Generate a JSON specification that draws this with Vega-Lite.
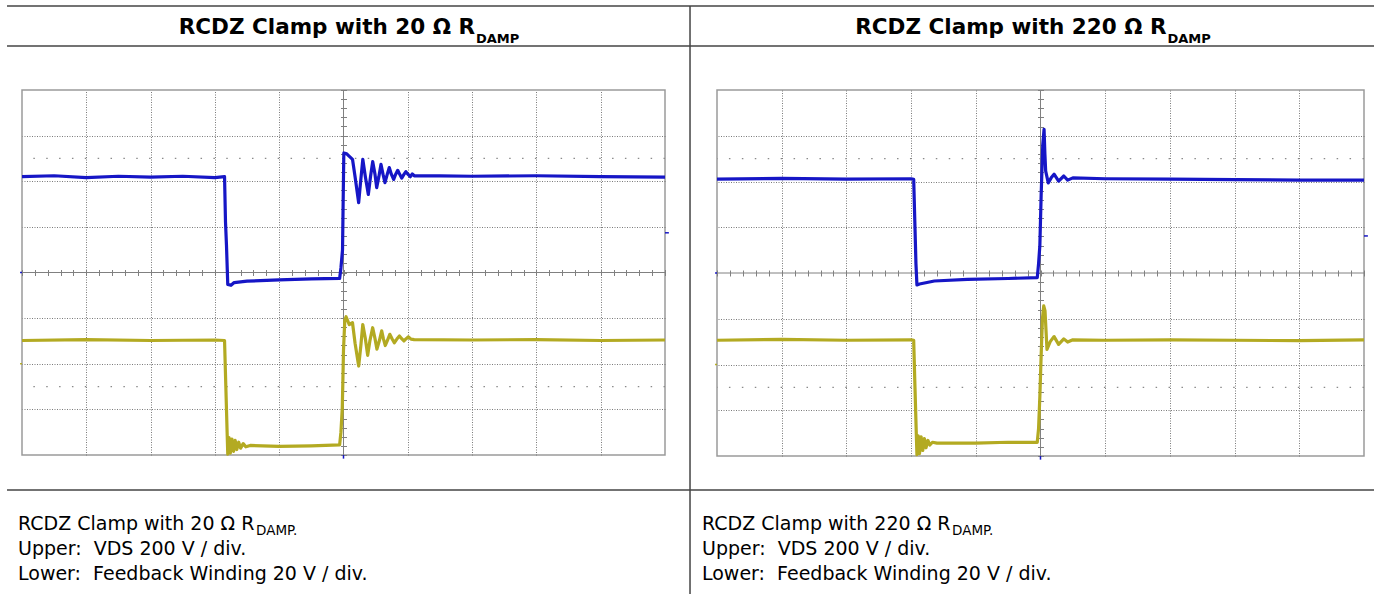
{
  "$schema": "https://vega.github.io/schema/vega-lite/v6.json",
  "autosize": {"type": "pad"},
  "padding": {"left": 5, "top": 4, "right": 0, "bottom": 0},
  "background": "white",
  "bounds": "flush",
  "spacing": 52,
  "config": {
    "view": {"stroke": "#9a9a9a", "strokeWidth": 1.5},
    "axis": {"labels": false, "title": null, "domain": false, "ticks": false, "grid": false}
  },
  "datasets": {
    "a": [
      {"ch": "VDS", "t": 0, "v": 6.1}, {"ch": "VDS", "t": 0.5, "v": 6.12}, {"ch": "VDS", "t": 1.0, "v": 6.08}, {"ch": "VDS", "t": 1.5, "v": 6.11}, {"ch": "VDS", "t": 2.0, "v": 6.09}, {"ch": "VDS", "t": 2.5, "v": 6.11}, {"ch": "VDS", "t": 3.0, "v": 6.08}, {"ch": "VDS", "t": 3.15, "v": 6.1},
      {"ch": "VDS", "t": 3.165, "v": 5.1}, {"ch": "VDS", "t": 3.18, "v": 4.6}, {"ch": "VDS", "t": 3.2, "v": 3.74}, {"ch": "VDS", "t": 3.25, "v": 3.72}, {"ch": "VDS", "t": 3.3, "v": 3.78}, {"ch": "VDS", "t": 3.5, "v": 3.81}, {"ch": "VDS", "t": 4.0, "v": 3.84}, {"ch": "VDS", "t": 4.5, "v": 3.86}, {"ch": "VDS", "t": 4.94, "v": 3.87},
      {"ch": "VDS", "t": 4.96, "v": 4.1}, {"ch": "VDS", "t": 4.985, "v": 4.5}, {"ch": "VDS", "t": 4.995, "v": 5.6}, {"ch": "VDS", "t": 5.005, "v": 6.62}, {"ch": "VDS", "t": 5.05, "v": 6.6}, {"ch": "VDS", "t": 5.14, "v": 6.48}, {"ch": "VDS", "t": 5.18, "v": 6.1}, {"ch": "VDS", "t": 5.236, "v": 5.53}, {"ch": "VDS", "t": 5.26, "v": 5.9}, {"ch": "VDS", "t": 5.3, "v": 6.48}, {"ch": "VDS", "t": 5.34, "v": 6.1}, {"ch": "VDS", "t": 5.386, "v": 5.71}, {"ch": "VDS", "t": 5.42, "v": 6.1}, {"ch": "VDS", "t": 5.454, "v": 6.43}, {"ch": "VDS", "t": 5.49, "v": 6.15}, {"ch": "VDS", "t": 5.516, "v": 5.86}, {"ch": "VDS", "t": 5.55, "v": 6.1}, {"ch": "VDS", "t": 5.583, "v": 6.37}, {"ch": "VDS", "t": 5.615, "v": 6.15}, {"ch": "VDS", "t": 5.645, "v": 5.97}, {"ch": "VDS", "t": 5.68, "v": 6.15}, {"ch": "VDS", "t": 5.712, "v": 6.3}, {"ch": "VDS", "t": 5.745, "v": 6.15}, {"ch": "VDS", "t": 5.78, "v": 6.04}, {"ch": "VDS", "t": 5.81, "v": 6.15}, {"ch": "VDS", "t": 5.843, "v": 6.24}, {"ch": "VDS", "t": 5.875, "v": 6.15}, {"ch": "VDS", "t": 5.905, "v": 6.07}, {"ch": "VDS", "t": 5.94, "v": 6.15}, {"ch": "VDS", "t": 5.97, "v": 6.21}, {"ch": "VDS", "t": 6.005, "v": 6.15}, {"ch": "VDS", "t": 6.04, "v": 6.1}, {"ch": "VDS", "t": 6.07, "v": 6.16}, {"ch": "VDS", "t": 6.1, "v": 6.12}, {"ch": "VDS", "t": 6.5, "v": 6.12}, {"ch": "VDS", "t": 7.0, "v": 6.11}, {"ch": "VDS", "t": 8.0, "v": 6.12}, {"ch": "VDS", "t": 9.0, "v": 6.1}, {"ch": "VDS", "t": 10.0, "v": 6.09},
      {"ch": "FB", "t": 0, "v": 2.51}, {"ch": "FB", "t": 1, "v": 2.53}, {"ch": "FB", "t": 2, "v": 2.51}, {"ch": "FB", "t": 3, "v": 2.52}, {"ch": "FB", "t": 3.15, "v": 2.51}, {"ch": "FB", "t": 3.17, "v": 1.5}, {"ch": "FB", "t": 3.19, "v": 0.5}, {"ch": "FB", "t": 3.2, "v": 0.02}, {"ch": "FB", "t": 3.22, "v": 0.38}, {"ch": "FB", "t": 3.24, "v": 0.04}, {"ch": "FB", "t": 3.265, "v": 0.35}, {"ch": "FB", "t": 3.29, "v": 0.08}, {"ch": "FB", "t": 3.315, "v": 0.32}, {"ch": "FB", "t": 3.34, "v": 0.12}, {"ch": "FB", "t": 3.37, "v": 0.28}, {"ch": "FB", "t": 3.4, "v": 0.15}, {"ch": "FB", "t": 3.44, "v": 0.25}, {"ch": "FB", "t": 3.48, "v": 0.18}, {"ch": "FB", "t": 3.55, "v": 0.21}, {"ch": "FB", "t": 4.0, "v": 0.19}, {"ch": "FB", "t": 4.5, "v": 0.2}, {"ch": "FB", "t": 4.94, "v": 0.22},
      {"ch": "FB", "t": 4.96, "v": 0.5}, {"ch": "FB", "t": 4.98, "v": 1.0}, {"ch": "FB", "t": 4.99, "v": 1.6}, {"ch": "FB", "t": 5.0, "v": 2.3}, {"ch": "FB", "t": 5.02, "v": 2.95}, {"ch": "FB", "t": 5.04, "v": 3.03}, {"ch": "FB", "t": 5.09, "v": 2.86}, {"ch": "FB", "t": 5.14, "v": 2.9}, {"ch": "FB", "t": 5.18, "v": 2.45}, {"ch": "FB", "t": 5.236, "v": 1.95}, {"ch": "FB", "t": 5.27, "v": 2.4}, {"ch": "FB", "t": 5.3, "v": 2.86}, {"ch": "FB", "t": 5.34, "v": 2.55}, {"ch": "FB", "t": 5.376, "v": 2.185}, {"ch": "FB", "t": 5.41, "v": 2.5}, {"ch": "FB", "t": 5.454, "v": 2.79}, {"ch": "FB", "t": 5.49, "v": 2.55}, {"ch": "FB", "t": 5.52, "v": 2.32}, {"ch": "FB", "t": 5.56, "v": 2.52}, {"ch": "FB", "t": 5.594, "v": 2.72}, {"ch": "FB", "t": 5.62, "v": 2.55}, {"ch": "FB", "t": 5.65, "v": 2.4}, {"ch": "FB", "t": 5.685, "v": 2.52}, {"ch": "FB", "t": 5.72, "v": 2.645}, {"ch": "FB", "t": 5.755, "v": 2.55}, {"ch": "FB", "t": 5.79, "v": 2.46}, {"ch": "FB", "t": 5.83, "v": 2.54}, {"ch": "FB", "t": 5.87, "v": 2.61}, {"ch": "FB", "t": 5.905, "v": 2.55}, {"ch": "FB", "t": 5.94, "v": 2.5}, {"ch": "FB", "t": 5.975, "v": 2.55}, {"ch": "FB", "t": 6.01, "v": 2.59}, {"ch": "FB", "t": 6.05, "v": 2.54}, {"ch": "FB", "t": 6.1, "v": 2.53}, {"ch": "FB", "t": 7, "v": 2.52}, {"ch": "FB", "t": 8, "v": 2.53}, {"ch": "FB", "t": 9, "v": 2.51}, {"ch": "FB", "t": 10, "v": 2.52}
    ],
    "b": [
      {"ch": "VDS", "t": 0, "v": 6.05}, {"ch": "VDS", "t": 1, "v": 6.07}, {"ch": "VDS", "t": 2, "v": 6.05}, {"ch": "VDS", "t": 3.0, "v": 6.06}, {"ch": "VDS", "t": 3.04, "v": 6.05}, {"ch": "VDS", "t": 3.06, "v": 5.0}, {"ch": "VDS", "t": 3.075, "v": 4.2}, {"ch": "VDS", "t": 3.09, "v": 3.74}, {"ch": "VDS", "t": 3.13, "v": 3.76}, {"ch": "VDS", "t": 3.36, "v": 3.825}, {"ch": "VDS", "t": 3.87, "v": 3.86}, {"ch": "VDS", "t": 4.5, "v": 3.88}, {"ch": "VDS", "t": 4.95, "v": 3.9},
      {"ch": "VDS", "t": 4.97, "v": 4.2}, {"ch": "VDS", "t": 4.99, "v": 4.6}, {"ch": "VDS", "t": 5.01, "v": 5.7}, {"ch": "VDS", "t": 5.035, "v": 6.8}, {"ch": "VDS", "t": 5.055, "v": 7.14}, {"ch": "VDS", "t": 5.068, "v": 6.6}, {"ch": "VDS", "t": 5.08, "v": 6.23}, {"ch": "VDS", "t": 5.12, "v": 5.97}, {"ch": "VDS", "t": 5.165, "v": 6.08}, {"ch": "VDS", "t": 5.21, "v": 6.16}, {"ch": "VDS", "t": 5.28, "v": 6.01}, {"ch": "VDS", "t": 5.36, "v": 6.12}, {"ch": "VDS", "t": 5.42, "v": 6.03}, {"ch": "VDS", "t": 5.5, "v": 6.08}, {"ch": "VDS", "t": 6, "v": 6.06}, {"ch": "VDS", "t": 7, "v": 6.05}, {"ch": "VDS", "t": 8, "v": 6.04}, {"ch": "VDS", "t": 9, "v": 6.03}, {"ch": "VDS", "t": 10, "v": 6.03},
      {"ch": "FB", "t": 0, "v": 2.53}, {"ch": "FB", "t": 1, "v": 2.55}, {"ch": "FB", "t": 2, "v": 2.53}, {"ch": "FB", "t": 3, "v": 2.54}, {"ch": "FB", "t": 3.04, "v": 2.53}, {"ch": "FB", "t": 3.06, "v": 1.5}, {"ch": "FB", "t": 3.08, "v": 0.5}, {"ch": "FB", "t": 3.09, "v": 0.03}, {"ch": "FB", "t": 3.11, "v": 0.44}, {"ch": "FB", "t": 3.13, "v": 0.05}, {"ch": "FB", "t": 3.155, "v": 0.42}, {"ch": "FB", "t": 3.18, "v": 0.12}, {"ch": "FB", "t": 3.205, "v": 0.38}, {"ch": "FB", "t": 3.23, "v": 0.18}, {"ch": "FB", "t": 3.26, "v": 0.34}, {"ch": "FB", "t": 3.29, "v": 0.24}, {"ch": "FB", "t": 3.33, "v": 0.3}, {"ch": "FB", "t": 3.4, "v": 0.28}, {"ch": "FB", "t": 4, "v": 0.28}, {"ch": "FB", "t": 4.5, "v": 0.3}, {"ch": "FB", "t": 4.95, "v": 0.3},
      {"ch": "FB", "t": 4.97, "v": 0.6}, {"ch": "FB", "t": 4.99, "v": 1.3}, {"ch": "FB", "t": 5.01, "v": 2.2}, {"ch": "FB", "t": 5.03, "v": 3.0}, {"ch": "FB", "t": 5.05, "v": 3.28}, {"ch": "FB", "t": 5.07, "v": 3.17}, {"ch": "FB", "t": 5.1, "v": 2.33}, {"ch": "FB", "t": 5.15, "v": 2.5}, {"ch": "FB", "t": 5.21, "v": 2.61}, {"ch": "FB", "t": 5.28, "v": 2.44}, {"ch": "FB", "t": 5.36, "v": 2.56}, {"ch": "FB", "t": 5.42, "v": 2.49}, {"ch": "FB", "t": 5.5, "v": 2.54}, {"ch": "FB", "t": 6, "v": 2.53}, {"ch": "FB", "t": 7, "v": 2.54}, {"ch": "FB", "t": 8, "v": 2.53}, {"ch": "FB", "t": 9, "v": 2.52}, {"ch": "FB", "t": 10, "v": 2.54}
    ]
  },
  "hconcat": [
    {
      "width": 643,
      "height": 365,
      "layer": [
        {"data": {"values": [{}]}, "mark": {"type": "rule", "color": "#444", "strokeWidth": 1.5}, "encoding": {"x": {"datum": -0.233, "axis": null}, "x2": {"datum": 10.389}, "y": {"datum": 9.841, "axis": null}}},
        {"data": {"values": [{}]}, "mark": {"type": "rule", "color": "#444", "strokeWidth": 1.5}, "encoding": {"x": {"datum": -0.233, "axis": null}, "x2": {"datum": 10.389}, "y": {"datum": 8.964, "axis": null}}},
        {"data": {"values": [{}]}, "mark": {"type": "rule", "color": "#444", "strokeWidth": 1.5}, "encoding": {"x": {"datum": -0.233, "axis": null}, "x2": {"datum": 10.389}, "y": {"datum": -0.767, "axis": null}}},
        {"data": {"values": [{}]}, "mark": {"type": "rule", "color": "#444", "strokeWidth": 1.5}, "encoding": {"x": {"datum": 10.389, "axis": null}, "y": {"datum": 9.841, "axis": null}, "y2": {"datum": -3.07}}},
        {"data": {"values": [{}]}, "mark": {"type": "text", "align": "right", "baseline": "alphabetic", "font": "DejaVu Sans", "fontSize": 21.5, "fontWeight": "bold", "color": "#000"}, "encoding": {"x": {"datum": 7.045, "axis": null}, "y": {"datum": 9.227, "axis": null}, "text": {"value": "RCDZ Clamp with 20 Ω R"}}},
        {"data": {"values": [{}]}, "mark": {"type": "text", "align": "left", "baseline": "alphabetic", "dx": 1, "dy": 8.5, "font": "DejaVu Sans", "fontSize": 13, "fontWeight": "bold", "color": "#000"}, "encoding": {"x": {"datum": 7.045, "axis": null}, "y": {"datum": 9.227, "axis": null}, "text": {"value": "DAMP"}}},
        {"data": {"values": [{}]}, "mark": {"type": "text", "align": "left", "baseline": "alphabetic", "font": "DejaVu Sans", "fontSize": 19, "color": "#000"}, "encoding": {"x": {"datum": -0.062, "axis": null}, "y": {"datum": -1.644, "axis": null}, "text": {"value": "RCDZ Clamp with 20 Ω R"}}},
        {"data": {"values": [{}]}, "mark": {"type": "text", "align": "left", "baseline": "alphabetic", "dy": 5, "font": "DejaVu Sans", "fontSize": 13.5, "color": "#000"}, "encoding": {"x": {"datum": 3.639, "axis": null}, "y": {"datum": -1.644, "axis": null}, "text": {"value": "DAMP."}}},
        {"data": {"values": [{}]}, "mark": {"type": "text", "align": "left", "baseline": "alphabetic", "font": "DejaVu Sans", "fontSize": 19, "lineHeight": 25, "lineBreak": "\n", "color": "#000"}, "encoding": {"x": {"datum": -0.062, "axis": null}, "y": {"datum": -2.192, "axis": null}, "text": {"value": "Upper:\u00a0 VDS 200 V / div.\nLower:\u00a0 Feedback Winding 20 V / div."}}},
        {"data": {"values": [{}]}, "mark": {"type": "rule", "color": "#8a8a8a", "strokeWidth": 1.2, "strokeDash": [1.5, 11.36]}, "encoding": {"y": {"datum": 6.5, "axis": null}}},
        {"data": {"values": [{}]}, "mark": {"type": "rule", "color": "#8a8a8a", "strokeWidth": 1.2, "strokeDash": [1.5, 11.36]}, "encoding": {"y": {"datum": 1.5, "axis": null}}},
        {"data": {"values": [{}]}, "mark": {"type": "rule", "color": "#808080", "strokeWidth": 1}, "encoding": {"x": {"datum": 5, "axis": {"orient": "bottom", "offset": -185.5, "ticks": true, "tickSize": 6, "tickCount": 50, "tickColor": "#808080", "tickWidth": 1, "domain": false, "labels": false, "grid": false, "title": null}}}},
        {"data": {"values": [{}]}, "mark": {"type": "rule", "color": "#808080", "strokeWidth": 1}, "encoding": {"y": {"datum": 4, "axis": {"orient": "left", "offset": -324.5, "ticks": true, "tickSize": 6, "tickCount": 40, "tickColor": "#808080", "tickWidth": 1, "domain": false, "labels": false, "grid": false, "title": null}}}},
        {"data": {"values": [{}]}, "mark": {"type": "rule", "color": "#1616c6", "strokeWidth": 1.5}, "encoding": {"x": {"datum": 10.0, "axis": null}, "x2": {"datum": 10.06}, "y": {"datum": 4.87, "axis": null}}},
        {"data": {"values": [{}]}, "mark": {"type": "rule", "color": "#1616c6", "strokeWidth": 1.5}, "encoding": {"x": {"datum": 5.0, "axis": null}, "y": {"datum": 0.0, "axis": null}, "y2": {"datum": -0.08}}},
        {"data": {"values": [{}]}, "mark": {"type": "rule", "color": "#1616c6", "strokeWidth": 1.5}, "encoding": {"x": {"datum": -0.03, "axis": null}, "x2": {"datum": 0.0}, "y": {"datum": 4.0, "axis": null}}},
        {"data": {"values": [{}]}, "mark": {"type": "rule", "color": "#b3aa22", "strokeWidth": 1.5}, "encoding": {"x": {"datum": -0.03, "axis": null}, "x2": {"datum": 0.0}, "y": {"datum": 2.0, "axis": null}}},
        {
          "data": {"name": "a"},
          "mark": {"type": "line", "strokeWidth": 3.2, "strokeJoin": "round"},
          "encoding": {
            "x": {"field": "t", "type": "quantitative", "scale": {"domain": [0, 10], "nice": false, "zero": false}, "axis": {"orient": "top", "values": [1, 2, 3, 4, 6, 7, 8, 9], "grid": true, "gridColor": "#7a7a7a", "gridDash": [1, 1.5], "gridWidth": 1, "ticks": false, "labels": false, "domain": false, "title": null}},
            "y": {"field": "v", "type": "quantitative", "scale": {"domain": [0, 8], "nice": false, "zero": false}, "axis": {"orient": "right", "values": [1, 2, 3, 5, 6, 7], "grid": true, "gridColor": "#7a7a7a", "gridDash": [1, 1.5], "gridWidth": 1, "ticks": false, "labels": false, "domain": false, "title": null}},
            "color": {"field": "ch", "type": "nominal", "scale": {"domain": ["VDS", "FB"], "range": ["#1616c6", "#b3aa22"]}, "legend": null}
          }
        }
      ],
      "resolve": {"axis": {"x": "independent", "y": "independent"}}
    },
    {
      "width": 647,
      "height": 366,
      "layer": [
        {"data": {"values": [{}]}, "mark": {"type": "rule", "color": "#444", "strokeWidth": 1.5}, "encoding": {"x": {"datum": -0.4173, "axis": null}, "x2": {"datum": 10.17}, "y": {"datum": 9.836, "axis": null}}},
        {"data": {"values": [{}]}, "mark": {"type": "rule", "color": "#444", "strokeWidth": 1.5}, "encoding": {"x": {"datum": -0.4173, "axis": null}, "x2": {"datum": 10.17}, "y": {"datum": 8.962, "axis": null}}},
        {"data": {"values": [{}]}, "mark": {"type": "rule", "color": "#444", "strokeWidth": 1.5}, "encoding": {"x": {"datum": -0.4173, "axis": null}, "x2": {"datum": 10.17}, "y": {"datum": -0.743, "axis": null}}},
        {"data": {"values": [{}]}, "mark": {"type": "text", "align": "right", "baseline": "alphabetic", "font": "DejaVu Sans", "fontSize": 21.5, "fontWeight": "bold", "color": "#000"}, "encoding": {"x": {"datum": 6.947, "axis": null}, "y": {"datum": 9.224, "axis": null}, "text": {"value": "RCDZ Clamp with 220 Ω R"}}},
        {"data": {"values": [{}]}, "mark": {"type": "text", "align": "left", "baseline": "alphabetic", "dx": 1, "dy": 8.5, "font": "DejaVu Sans", "fontSize": 13, "fontWeight": "bold", "color": "#000"}, "encoding": {"x": {"datum": 6.947, "axis": null}, "y": {"datum": 9.224, "axis": null}, "text": {"value": "DAMP"}}},
        {"data": {"values": [{}]}, "mark": {"type": "text", "align": "left", "baseline": "alphabetic", "font": "DejaVu Sans", "fontSize": 19, "color": "#000"}, "encoding": {"x": {"datum": -0.232, "axis": null}, "y": {"datum": -1.617, "axis": null}, "text": {"value": "RCDZ Clamp with 220 Ω R"}}},
        {"data": {"values": [{}]}, "mark": {"type": "text", "align": "left", "baseline": "alphabetic", "dy": 5, "font": "DejaVu Sans", "fontSize": 13.5, "color": "#000"}, "encoding": {"x": {"datum": 3.632, "axis": null}, "y": {"datum": -1.617, "axis": null}, "text": {"value": "DAMP."}}},
        {"data": {"values": [{}]}, "mark": {"type": "text", "align": "left", "baseline": "alphabetic", "font": "DejaVu Sans", "fontSize": 19, "lineHeight": 25, "lineBreak": "\n", "color": "#000"}, "encoding": {"x": {"datum": -0.232, "axis": null}, "y": {"datum": -2.164, "axis": null}, "text": {"value": "Upper:\u00a0 VDS 200 V / div.\nLower:\u00a0 Feedback Winding 20 V / div."}}},
        {"data": {"values": [{}]}, "mark": {"type": "rule", "color": "#8a8a8a", "strokeWidth": 1.2, "strokeDash": [1.5, 11.43]}, "encoding": {"y": {"datum": 6.5, "axis": null}}},
        {"data": {"values": [{}]}, "mark": {"type": "rule", "color": "#8a8a8a", "strokeWidth": 1.2, "strokeDash": [1.5, 11.43]}, "encoding": {"y": {"datum": 1.5, "axis": null}}},
        {"data": {"values": [{}]}, "mark": {"type": "rule", "color": "#808080", "strokeWidth": 1}, "encoding": {"x": {"datum": 5, "axis": {"orient": "bottom", "offset": -186, "ticks": true, "tickSize": 6, "tickCount": 50, "tickColor": "#808080", "tickWidth": 1, "domain": false, "labels": false, "grid": false, "title": null}}}},
        {"data": {"values": [{}]}, "mark": {"type": "rule", "color": "#808080", "strokeWidth": 1}, "encoding": {"y": {"datum": 4, "axis": {"orient": "left", "offset": -326.5, "ticks": true, "tickSize": 6, "tickCount": 40, "tickColor": "#808080", "tickWidth": 1, "domain": false, "labels": false, "grid": false, "title": null}}}},
        {"data": {"values": [{}]}, "mark": {"type": "rule", "color": "#1616c6", "strokeWidth": 1.5}, "encoding": {"x": {"datum": 10.0, "axis": null}, "x2": {"datum": 10.06}, "y": {"datum": 4.81, "axis": null}}},
        {"data": {"values": [{}]}, "mark": {"type": "rule", "color": "#1616c6", "strokeWidth": 1.5}, "encoding": {"x": {"datum": 5.0, "axis": null}, "y": {"datum": 0.0, "axis": null}, "y2": {"datum": -0.08}}},
        {"data": {"values": [{}]}, "mark": {"type": "rule", "color": "#1616c6", "strokeWidth": 1.5}, "encoding": {"x": {"datum": -0.03, "axis": null}, "x2": {"datum": 0.0}, "y": {"datum": 4.0, "axis": null}}},
        {"data": {"values": [{}]}, "mark": {"type": "rule", "color": "#b3aa22", "strokeWidth": 1.5}, "encoding": {"x": {"datum": -0.03, "axis": null}, "x2": {"datum": 0.0}, "y": {"datum": 2.0, "axis": null}}},
        {
          "data": {"name": "b"},
          "mark": {"type": "line", "strokeWidth": 3.2, "strokeJoin": "round"},
          "encoding": {
            "x": {"field": "t", "type": "quantitative", "scale": {"domain": [0, 10], "nice": false, "zero": false}, "axis": {"orient": "top", "values": [1, 2, 3, 4, 6, 7, 8, 9], "grid": true, "gridColor": "#7a7a7a", "gridDash": [1, 1.5], "gridWidth": 1, "ticks": false, "labels": false, "domain": false, "title": null}},
            "y": {"field": "v", "type": "quantitative", "scale": {"domain": [0, 8], "nice": false, "zero": false}, "axis": {"orient": "right", "values": [1, 2, 3, 5, 6, 7], "grid": true, "gridColor": "#7a7a7a", "gridDash": [1, 1.5], "gridWidth": 1, "ticks": false, "labels": false, "domain": false, "title": null}},
            "color": {"field": "ch", "type": "nominal", "scale": {"domain": ["VDS", "FB"], "range": ["#1616c6", "#b3aa22"]}, "legend": null}
          }
        }
      ],
      "resolve": {"axis": {"x": "independent", "y": "independent"}}
    }
  ]
}
